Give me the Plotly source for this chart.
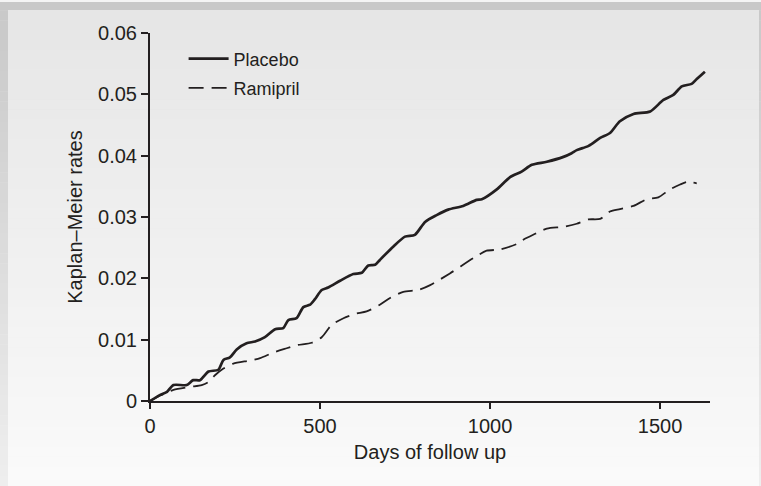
import plotly.graph_objects as go

# ---- data ----
days_placebo = [0, 30, 50, 69, 108, 127, 147, 172, 201, 216, 235, 255, 284, 309, 338, 368, 392, 407, 431,
                451, 471, 485, 505, 524, 559, 598, 623, 642, 662, 676, 716, 750, 779, 809, 843, 877,
                921, 961, 976, 1020, 1059, 1093, 1123, 1167, 1216, 1240, 1255, 1290, 1324, 1353, 1382,
                1422, 1471, 1510, 1539, 1564, 1593, 1608, 1632]
rate_placebo = [0, 0.0010, 0.0015, 0.0026, 0.0026, 0.0034, 0.0034, 0.0048, 0.0051, 0.0067, 0.0071, 0.0084,
                0.0094, 0.0097, 0.0104, 0.0117, 0.0119, 0.0132, 0.0135, 0.0153, 0.0157, 0.0166, 0.0181,
                0.0185, 0.0196, 0.0207, 0.0209, 0.0221, 0.0222, 0.0230, 0.0252, 0.0268, 0.0271, 0.0292,
                0.0303, 0.0312, 0.0318, 0.0328, 0.0329, 0.0345, 0.0365, 0.0374, 0.0385, 0.0390, 0.0398,
                0.0404, 0.0409, 0.0416, 0.0429, 0.0437, 0.0456, 0.0468, 0.0472, 0.0491, 0.0499, 0.0513,
                0.0517, 0.0525, 0.0537]

days_ramipril = [0, 30, 69, 118, 152, 172, 191, 216, 245, 294, 324, 363, 402, 431, 476, 505, 534, 569, 603,
                 637, 676, 706, 745, 789, 824, 882, 951, 990, 1029, 1079, 1098, 1127, 1167, 1216, 1255,
                 1289, 1324, 1353, 1382, 1422, 1461, 1495, 1529, 1559, 1579, 1608]
rate_ramipril = [0, 0.0009, 0.0018, 0.0023, 0.0026, 0.0031, 0.0042, 0.0053, 0.0061, 0.0066, 0.0070, 0.0079,
                 0.0086, 0.0091, 0.0095, 0.0104, 0.0124, 0.0135, 0.0142, 0.0146, 0.0157, 0.0168, 0.0178,
                 0.0181, 0.0189, 0.0208, 0.0233, 0.0245, 0.0247, 0.0256, 0.0263, 0.0271, 0.0281, 0.0284,
                 0.0289, 0.0296, 0.0297, 0.0309, 0.0313, 0.0318, 0.0329, 0.0332, 0.0345, 0.0353, 0.0357,
                 0.0355]

x_ticks = [0, 500, 1000, 1500]
y_ticks = [0, 0.01, 0.02, 0.03, 0.04, 0.05, 0.06]
y_tick_text = ["0", "0.01", "0.02", "0.03", "0.04", "0.05", "0.06"]

# ---- figure geometry ----
W, H = 761, 486
ML, MR, MT, MB = 150, 51, 33, 85
PW, PH = W - ML - MR, H - MT - MB
INK = "#231f20"
FONT = "Liberation Sans, Arial, Helvetica, sans-serif"


def px2paper(px, py):
    return (px - ML) / PW, (H - MB - py) / PH


def mix(c1, c2, t):
    return "rgb(%d,%d,%d)" % tuple(round(a + (b - a) * t) for a, b in zip(c1, c2))


shapes = []
N = 48
# outer frame gradient
for i in range(N):
    y0p, y1p = H * i / N, H * (i + 1) / N + 0.6
    t = i / (N - 1)
    x0, y0 = px2paper(0, y1p)
    x1, y1 = px2paper(W, y0p)
    shapes.append(dict(type="rect", xref="paper", yref="paper", x0=x0, x1=x1, y0=y0, y1=y1,
                       fillcolor=mix((200, 200, 200), (238, 238, 238), t), line_width=0, layer="below"))
# light strip at very top
x0, y0 = px2paper(0, 2)
x1, y1 = px2paper(W, 0)
shapes.append(dict(type="rect", xref="paper", yref="paper", x0=x0, x1=x1, y0=y0, y1=y1,
                   fillcolor="#f4f4f4", line_width=0, layer="below"))
# inner panel gradient
top, bot, lft, rgt = 10, H, 8, 759
for i in range(N):
    y0p = top + (bot - top) * i / N
    y1p = top + (bot - top) * (i + 1) / N + 0.6
    t = i / (N - 1)
    x0, y0 = px2paper(lft, y1p)
    x1, y1 = px2paper(rgt, y0p)
    shapes.append(dict(type="rect", xref="paper", yref="paper", x0=x0, x1=x1, y0=y0, y1=y1,
                       fillcolor=mix((230, 230, 230), (250, 250, 250), t), line_width=0, layer="below"))

fig = go.Figure()
fig.add_trace(go.Scatter(x=days_placebo, y=rate_placebo, mode="lines", name="Placebo",
                         legendgroup="p",
                         line=dict(color=INK, width=2.7, shape="spline", smoothing=0.7)))
fig.add_trace(go.Scatter(x=days_ramipril, y=rate_ramipril, mode="lines", name="Ramipril",
                         legendgroup="r",
                         line=dict(color=INK, width=1.8, dash="15px,8px", shape="spline", smoothing=0.7)))

fig.update_layout(
    width=W, height=H,
    margin=dict(l=ML, r=MR, t=MT, b=MB, pad=0),
    paper_bgcolor="white",
    plot_bgcolor="rgba(0,0,0,0)",
    font=dict(family=FONT, size=20, color=INK),
    shapes=shapes,
    showlegend=True,
    legend=dict(x=0.06, y=0.98, xanchor="left", yanchor="top", bgcolor="rgba(0,0,0,0)",
                font=dict(size=18, color=INK), itemwidth=40, tracegroupgap=3,
                traceorder="grouped"),
    xaxis=dict(range=[0, 1647], tickvals=x_ticks, showgrid=False, zeroline=False,
               showline=True, linecolor=INK, linewidth=2, ticks="outside", ticklen=6,
               tickwidth=1.5, tickcolor=INK,
               title=dict(text="Days of follow up", standoff=9, font=dict(size=20)),
               tickfont=dict(size=20)),
    yaxis=dict(range=[0, 0.06], tickvals=y_ticks, ticktext=y_tick_text, showgrid=False,
               zeroline=False, showline=True, linecolor=INK, linewidth=2, ticks="outside",
               ticklen=7, tickwidth=1.5, tickcolor=INK,
               title=dict(text="Kaplan–Meier rates", standoff=10, font=dict(size=20)),
               tickfont=dict(size=20)),
)

fig.write_html("out.html")
